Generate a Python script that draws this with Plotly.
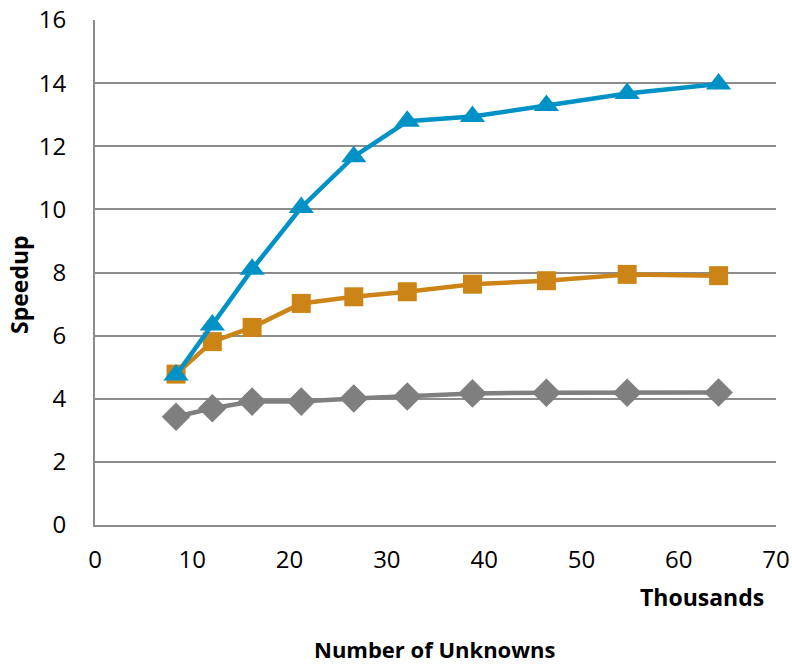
import plotly.graph_objects as go

# Problem size (thousands of unknowns) and measured speedups
unknowns_k = [8.33, 12.06, 16.15, 21.2, 26.6, 32.1, 38.8, 46.4, 54.7, 64.1]
speedup_high = [4.75, 6.34, 8.10, 10.06, 11.67, 12.79, 12.94, 13.29, 13.67, 13.97]
speedup_mid = [4.78, 5.81, 6.26, 7.02, 7.23, 7.39, 7.63, 7.74, 7.94, 7.90]
speedup_low = [3.43, 3.70, 3.91, 3.91, 4.01, 4.07, 4.17, 4.19, 4.19, 4.20]

y_ticks = [0, 2, 4, 6, 8, 10, 12, 14, 16]
x_ticks = [0, 10, 20, 30, 40, 50, 60, 70]

FONT = "Open Sans"

fig = go.Figure()

series = [
    (speedup_low, "#7f7f7f", "diamond", 22),
    (speedup_mid, "#cd8416", "square", 19),
    (speedup_high, "#0092c6", "triangle-up", 22),
]
for ys, color, sym, size in series:
    fig.add_trace(go.Scatter(
        x=unknowns_k, y=ys, mode="lines+markers",
        line=dict(color=color, width=4.5),
        marker=dict(symbol=sym, size=size, color=color, line=dict(width=0)),
        showlegend=False,
    ))

fig.update_layout(
    width=792, height=664,
    margin=dict(l=95, r=16, t=20, b=139),
    paper_bgcolor="white", plot_bgcolor="white",
    font=dict(family=FONT, color="black", size=24),
    xaxis=dict(
        range=[0, 70], tickvals=x_ticks, showgrid=False, automargin=False,
        showline=True, linecolor="#8c8c8c", linewidth=2,
        ticks="", ticklabelstandoff=12, zeroline=False,
        tickfont=dict(size=24),
    ),
    yaxis=dict(
        range=[0, 16], tickvals=y_ticks, showgrid=True, automargin=False,
        gridcolor="#8c8c8c", gridwidth=2,
        showline=True, linecolor="#8c8c8c", linewidth=2,
        ticks="", ticklabelstandoff=22, zeroline=False,
        tickfont=dict(size=24),
    ),
    annotations=[
        dict(text="<b>Speedup</b>", textangle=-90, x=19, y=285,
             showarrow=False, font=dict(size=23)),
        dict(text="<b>Thousands</b>", x=702, y=597, showarrow=False, font=dict(size=23)),
        dict(text="<b>Number of Unknowns</b>", x=435, y=649, showarrow=False, font=dict(size=22)),
    ],
)

# Place title annotations in pixel terms relative to the plot area
pl, pr, pt, pb = 95, 776, 20, 525
for a in fig.layout.annotations:
    a.xref = "paper"
    a.yref = "paper"
    a.x = (a.x - pl) / (pr - pl)
    a.y = (pb - a.y) / (pb - pt)
    a.xanchor = "center"
    a.yanchor = "middle"

fig.write_html("out.html")
